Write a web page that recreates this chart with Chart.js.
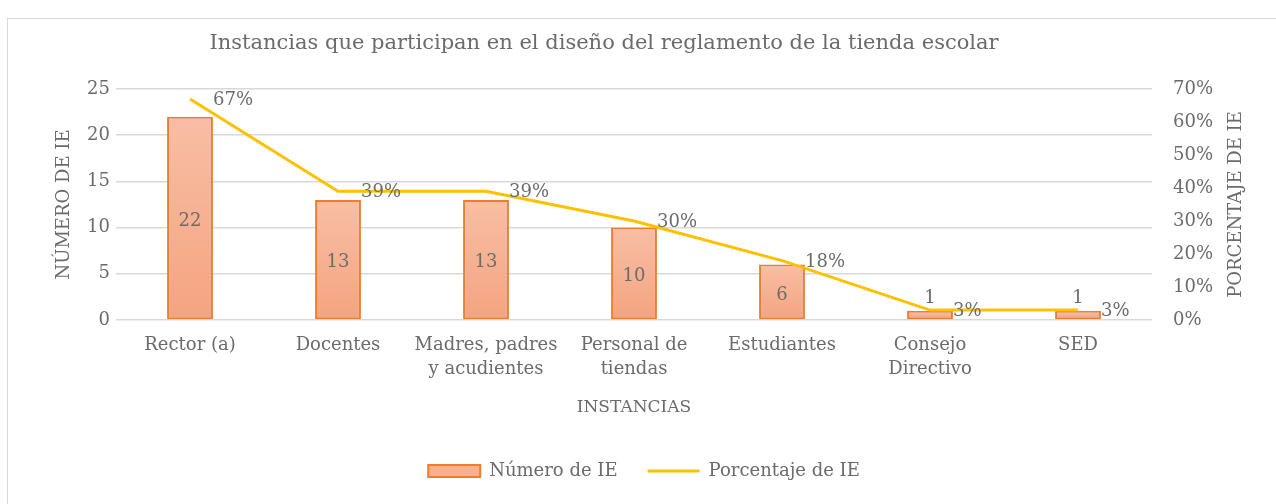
<!DOCTYPE html>
<html>
<head>
<meta charset="utf-8">
<script src="https://cdn.jsdelivr.net/npm/chart.js@4.4.1/dist/chart.umd.min.js"></script>
<style>
  html, body { margin: 0; padding: 0; background: #fff; overflow: hidden; }
  #frame { position: absolute; left: 7px; top: 18px; width: 1272px; height: 490px; border: 1px solid #d9d9d9; }
</style>
</head>
<body>
<div id="frame"><canvas id="chart"></canvas></div>
<script>
const chartTitle = "Instancias que participan en el diseño del reglamento de la tienda escolar";
const categories = [
    "Rector (a)",
    "Docentes",
    ["Madres, padres", "y acudientes"],
    ["Personal de", "tiendas"],
    "Estudiantes",
    ["Consejo", "Directivo"],
    "SED",
];
const numeroIE = [22, 13, 13, 10, 6, 1, 1];
const porcentajeIE = [0.67, 0.39, 0.39, 0.30, 0.18, 0.03, 0.03];
const leftTicks = [0, 5, 10, 15, 20, 25];
const rightTicks = [0, 0.1, 0.2, 0.3, 0.4, 0.5, 0.6, 0.7];

const FONT = "'DejaVu Serif', serif";
const GREY = "#6b6b6b";

function barGradient(context) {
    const chart = context.chart;
    if (!chart.chartArea) return "#f6b190";
    const y = chart.scales.y;
    const top = y.getPixelForValue(context.raw || 0);
    const bottom = y.getPixelForValue(0);
    const g = chart.ctx.createLinearGradient(0, top, 0, bottom);
    g.addColorStop(0, "#f8bea5");
    g.addColorStop(1, "#f4a47f");
    return g;
}

// title, data labels and the right axis title
const labelsPlugin = {
    id: "labels",
    afterDatasetsDraw(chart) {
        const ctx = chart.ctx;
        const area = chart.chartArea;
        ctx.save();
        ctx.fillStyle = GREY;
        ctx.textBaseline = "middle";

        ctx.font = "21px " + FONT;
        ctx.textAlign = "center";
        ctx.fillText(chartTitle, 596, 25);

        ctx.font = "18px " + FONT;
        const bars = chart.getDatasetMeta(0);
        bars.data.forEach((el, i) => {
            const h = el.base - el.y;
            ctx.textAlign = "center";
            if (h > 30) {
                ctx.fillText(String(numeroIE[i]), el.x, (el.y + el.base) / 2 + 3);
            } else {
                ctx.fillText(String(numeroIE[i]), el.x, el.y - 12);
            }
        });

        const line = chart.getDatasetMeta(1);
        line.data.forEach((el, i) => {
            ctx.textAlign = "left";
            ctx.fillText(Math.round(porcentajeIE[i] * 100) + "%", el.x + 23, el.y + 1.5);
        });

        ctx.textAlign = "center";
        ctx.translate(1228, (area.top + area.bottom) / 2);
        ctx.rotate(-Math.PI / 2);
        ctx.fillText("PORCENTAJE DE IE", 0, 0);
        ctx.restore();
    },
};

const ctx = document.getElementById("chart").getContext("2d");
new Chart(ctx, {
    data: {
        labels: categories,
        datasets: [
            {
                type: "bar",
                label: "Número de IE",
                data: numeroIE,
                yAxisID: "y",
                backgroundColor: barGradient,
                borderColor: "#ed7d31",
                borderWidth: 2,
                borderSkipped: false,
                barPercentage: 0.31,
                categoryPercentage: 1,
                order: 2,
            },
            {
                type: "line",
                label: "Porcentaje de IE",
                data: porcentajeIE,
                yAxisID: "y1",
                borderColor: "#ffc000",
                backgroundColor: "#ffc000",
                borderWidth: 3,
                pointRadius: 0,
                tension: 0,
                order: 1,
            },
        ],
    },
    options: {
        responsive: true,
        maintainAspectRatio: false,
        animation: false,
        layout: { padding: { top: 70, bottom: 19, left: 0, right: 0 } },
        plugins: {
            title: { display: false },
            legend: {
                position: "bottom",
                labels: {
                    color: GREY,
                    font: { family: FONT, size: 18 },
                    usePointStyle: true,
                    pointStyleWidth: 52,
                    boxHeight: 12,
                    padding: 30,
                    generateLabels(chart) {
                        return [
                            {
                                text: "Número de IE",
                                fillStyle: "#f6b190",
                                strokeStyle: "#ed7d31",
                                lineWidth: 2,
                                pointStyle: "rect",
                                datasetIndex: 0,
                                fontColor: GREY,
                            },
                            {
                                text: "Porcentaje de IE",
                                fillStyle: "#ffc000",
                                strokeStyle: "#ffc000",
                                lineWidth: 3,
                                pointStyle: "line",
                                datasetIndex: 1,
                                fontColor: GREY,
                            },
                        ];
                    },
                },
            },
            tooltip: { enabled: false },
        },
        scales: {
            x: {
                grid: { display: false, drawTicks: false },
                border: { display: false },
                ticks: {
                    color: GREY,
                    font: { family: FONT, size: 18, lineHeight: 1.3 },
                    padding: 14,
                    maxRotation: 0,
                },
                title: {
                    display: true,
                    text: "INSTANCIAS",
                    color: GREY,
                    font: { family: FONT, size: 17 },
                    padding: { top: 0, bottom: 14 },
                },
                afterFit(scale) { scale.height = 112; },
            },
            y: {
                position: "left",
                min: 0,
                max: 25,
                afterBuildTicks(scale) { scale.ticks = leftTicks.map(v => ({ value: v })); },
                grid: { color: "#d9d9d9", lineWidth: 1.5, drawTicks: false },
                border: { display: false },
                ticks: {
                    color: GREY,
                    font: { family: FONT, size: 18 },
                    padding: 6,
                },
                title: {
                    display: true,
                    text: "NÚMERO DE IE",
                    color: GREY,
                    font: { family: FONT, size: 18 },
                    padding: { top: 46, bottom: 0 },
                },
                afterFit(scale) { scale.width = 108; },
            },
            y1: {
                position: "right",
                min: 0,
                max: 0.7,
                afterBuildTicks(scale) { scale.ticks = rightTicks.map(v => ({ value: v })); },
                grid: { display: false, drawTicks: false },
                border: { display: false },
                ticks: {
                    color: GREY,
                    font: { family: FONT, size: 18 },
                    padding: 21,
                    callback: v => Math.round(v * 100) + "%",
                },
                afterFit(scale) { scale.width = 128; },
            },
        },
    },
    plugins: [labelsPlugin],
});
</script>
</body>
</html>
